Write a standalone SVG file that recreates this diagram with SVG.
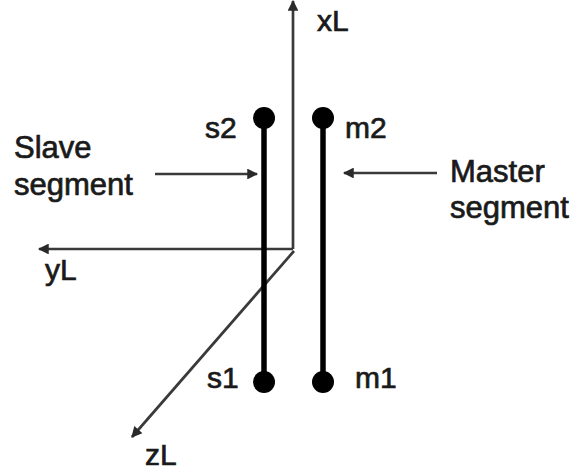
<svg xmlns="http://www.w3.org/2000/svg" width="574" height="473" viewBox="0 0 574 473">
<defs>
<marker id="ah" viewBox="0 0 10 10" refX="9" refY="5" markerWidth="4.5" markerHeight="4" orient="auto" markerUnits="strokeWidth">
<path d="M0,0 L10,5 L0,10 Z" fill="#2a2a2a"/>
</marker>
</defs>
<style>
.t{font-family:"Liberation Sans",Arial,sans-serif;fill:#1a1a1a;stroke:#1a1a1a;stroke-width:0.7}
.big{font-size:31px}
.sm{font-size:30px}
.ax{stroke:#3a3a3a;stroke-width:2.7;fill:none}
.seg{stroke:#000;stroke-width:5.5}
.dot{fill:#000}
</style>
<rect width="574" height="473" fill="#fff"/>
<g id="connectors">
<line class="ax" x1="293" y1="249" x2="293" y2="1" marker-end="url(#ah)"/>
<line class="ax" x1="293" y1="249" x2="39" y2="249" marker-end="url(#ah)"/>
<line class="ax" x1="294" y1="251" x2="132" y2="437" marker-end="url(#ah)"/>
<line class="ax" x1="155" y1="174" x2="257" y2="174" marker-end="url(#ah)"/>
<line class="ax" x1="437" y1="173" x2="344" y2="173" marker-end="url(#ah)"/>
</g>
<g id="slave-segment">
<line class="seg" x1="264" y1="118" x2="264" y2="382"/>
<circle class="dot" cx="264" cy="118" r="11"/>
<circle class="dot" cx="264" cy="382" r="11"/>
</g>
<g id="master-segment">
<line class="seg" x1="323" y1="118" x2="323" y2="382"/>
<circle class="dot" cx="323" cy="118" r="11"/>
<circle class="dot" cx="323" cy="382" r="11"/>
</g>
<g id="labels">
<text class="t big" x="14" y="158">Slave</text>
<text class="t big" x="14" y="195">segment</text>
<text class="t big" x="450" y="182">Master</text>
<text class="t big" x="450" y="218">segment</text>
<text class="t sm" x="205" y="138">s2</text>
<text class="t sm" x="345" y="138">m2</text>
<text class="t sm" x="207" y="388">s1</text>
<text class="t sm" x="355" y="388">m1</text>
<text class="t sm" x="317" y="31">xL</text>
<text class="t sm" x="45" y="280">yL</text>
<text class="t sm" x="145" y="465">zL</text>
</g>
</svg>
